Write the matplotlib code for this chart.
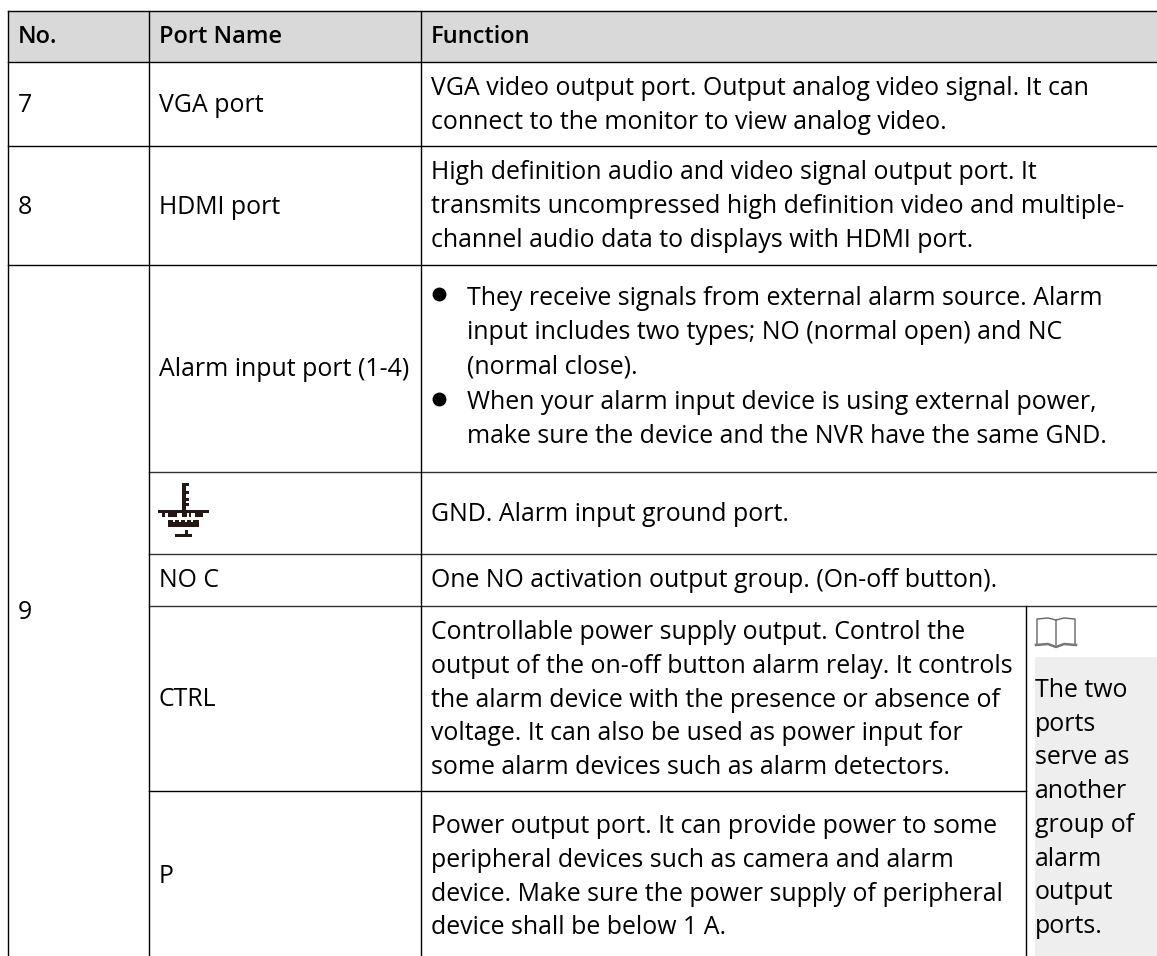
import matplotlib
matplotlib.use("Agg")
import matplotlib.pyplot as plt
from matplotlib.patches import Rectangle

plt.rcParams['font.family'] = ['Open Sans', 'DejaVu Sans']

headers = ["No.", "Port Name", "Function"]
numbers = ["7", "8", "9"]
port_names = ["VGA port", "HDMI port", "Alarm input port (1-4)", "NO C", "CTRL", "P"]

vga_lines = ["VGA video output port. Output analog video signal. It can",
             "connect to the monitor to view analog video."]
hdmi_lines = ["High definition audio and video signal output port. It",
              "transmits uncompressed high definition video and multiple-",
              "channel audio data to displays with HDMI port."]
alarm_lines_1 = ["They receive signals from external alarm source. Alarm",
                 "input includes two types; NO (normal open) and NC",
                 "(normal close)."]
alarm_lines_2 = ["When your alarm input device is using external power,",
                 "make sure the device and the NVR have the same GND."]
gnd_line = "GND. Alarm input ground port."
noc_line = "One NO activation output group. (On-off button)."
ctrl_lines = ["Controllable power supply output. Control the",
              "output of the on-off button alarm relay. It controls",
              "the alarm device with the presence or absence of",
              "voltage. It can also be used as power input for",
              "some alarm devices such as alarm detectors."]
p_lines = ["Power output port. It can provide power to some",
           "peripheral devices such as camera and alarm",
           "device. Make sure the power supply of peripheral",
           "device shall be below 1 A."]
note_lines = ["The two", "ports", "serve as", "another", "group of", "alarm", "output", "ports."]

FS = 17.9
LINE = 'black'

fig = plt.figure(figsize=(11.57, 9.56), dpi=100)
ax = fig.add_axes([0, 0, 1, 1])
ax.set_xlim(0, 1157)
ax.set_ylim(956, 0)
ax.axis('off')


def put(x, y, s, **kw):
    ax.text(x, y, s, fontsize=kw.pop('size', FS), va='baseline', ha='left', color='black', **kw)


def put_lines(x, y0, lines, step=33.8):
    for i, s in enumerate(lines):
        put(x, y0 + i * step, s)


# header and note backgrounds
ax.add_patch(Rectangle((8, 11), 1149, 51, fc='#d9d9d9', ec='none'))
ax.add_patch(Rectangle((1035, 657), 122, 299, fc='#eeeeee', ec='none'))

# horizontal rules
for y in [11, 62, 146, 265]:
    ax.plot([8, 1157], [y, y], color=LINE, lw=1.0)
for y in [472, 554, 606]:
    ax.plot([149, 1157], [y, y], color='#333333', lw=1.0)
ax.plot([149, 1026], [791, 791], color=LINE, lw=1.0)
ax.plot([8, 8], [11, 956], color=LINE, lw=1.0)
ax.plot([149, 149], [11, 956], color=LINE, lw=1.0)
ax.plot([421, 421], [11, 956], color=LINE, lw=1.0)
ax.plot([1026, 1026], [606, 956], color=LINE, lw=1.0)

# header
for x, s in zip([18, 159, 431], headers):
    put(x, 43, s, fontweight='semibold', size=17)

# numbers and port names
for y, s in zip([112, 214, 619], numbers):
    put(18, y, s)
for y, s in zip([112, 214, 376, 587, 706, 883], port_names):
    put(159, y, s)

put_lines(431, 95, vga_lines, 33.5)
put_lines(431, 179, hdmi_lines, 34)
put_lines(467, 305, alarm_lines_1, 34)
put_lines(467, 409, alarm_lines_2, 34)
for y in [294, 399]:
    ax.plot([439], [y], 'o', color='black', ms=10, mew=0)
put(431, 521, gnd_line)
put(431, 587, noc_line)
put_lines(431, 639, ctrl_lines)
put_lines(431, 833, p_lines)
put_lines(1035, 697, note_lines, 33.7)

# ground symbol
for x, y, w, h in [(182, 483, 3.5, 27), (185, 483, 4, 3), (185, 491, 4, 3), (185, 498, 4, 3), (185, 503, 4, 3),
                   (158, 510, 51, 3), (162, 513, 3, 4), (168, 513, 9, 4), (182, 513, 5, 4),
                   (189, 513, 2, 4), (195, 513, 8, 4), (168, 520, 31, 7), (185, 530, 3, 5), (175, 534, 17, 3)]:
    ax.add_patch(Rectangle((x, y), w, h, fc='#231815', ec='none'))
for x in [173, 179, 185, 191]:
    ax.add_patch(Rectangle((x, 520), 2, 2, fc='white', ec='none'))

# book icon
ax.plot([1037, 1037, 1048, 1056, 1056], [645, 619, 618, 620, 645], color='#666666', lw=1)
ax.plot([1056, 1064, 1075, 1075], [620, 618, 619, 645], color='#666666', lw=1)
ax.plot([1036, 1048, 1056, 1064, 1076], [645, 644, 647, 644, 645], color='#777777', lw=1.8)

fig.savefig('out.png', dpi=100)
